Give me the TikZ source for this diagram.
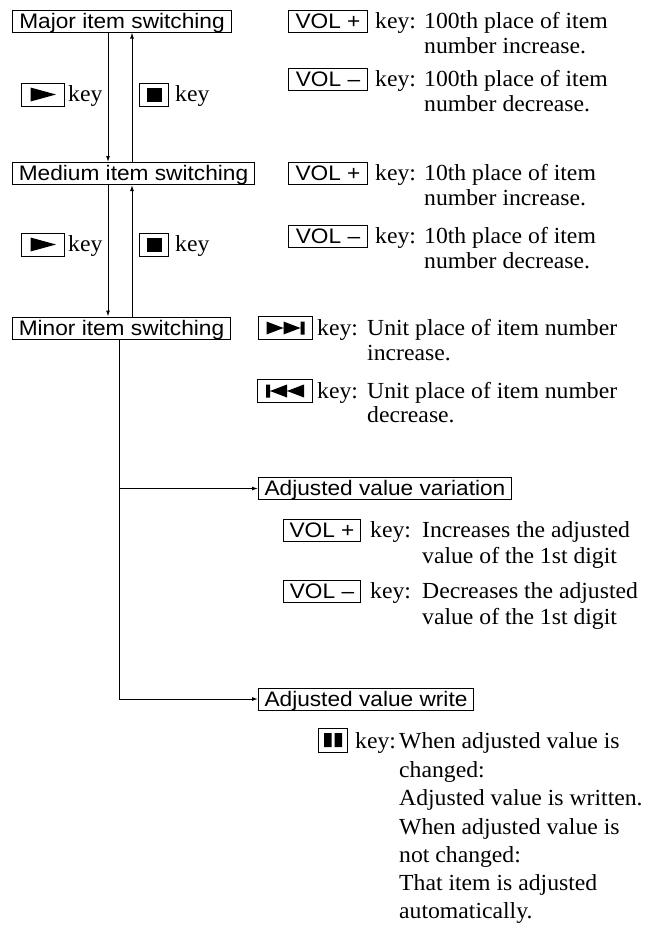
\documentclass[tikz,border=0pt]{standalone}
\usepackage{fontspec}
\setmainfont{Liberation Serif}[FakeStretch=1.03]
\newfontfamily\keyfont{Liberation Sans}[FakeStretch=1.08]
\usetikzlibrary{arrows.meta}

\begin{document}
\begin{tikzpicture}[x=1bp,y=-1bp,
  lbl/.style={font=\fontsize{23bp}{28bp}\selectfont, anchor=base west, inner sep=0pt},
  sbox/.style={draw, line width=1bp, font=\keyfont\fontsize{21bp}{25bp}\selectfont,
    anchor=west, inner sep=0pt, minimum height=22bp, text height=17.5bp, text depth=3bp},
  glyph/.style={draw, line width=1bp, anchor=west, minimum height=23bp, inner sep=0pt},
  tip/.style={-{Latex[length=6bp,width=4bp]}},
  wire/.style={line width=1bp},
]
\useasboundingbox (0,0) rectangle (651,926);

% mode boxes
\node[sbox, minimum width=219bp] (major)  at (12,21)    {Major item switching};
\node[sbox, minimum width=242bp] (medium) at (12,173.5) {Medium item switching};
\node[sbox, minimum width=218bp] (minor)  at (12,328)   {Minor item switching};
\node[sbox, minimum width=253bp] (vary)   at (258,488.5) {Adjusted value variation};
\node[sbox, minimum width=215bp] (write)  at (258,699)  {Adjusted value write};

% volume keys
\node[sbox, minimum width=79bp] (volup1) at (288,21.5)  {VOL +};
\node[sbox, minimum width=79bp] (voldn1) at (288,79)    {VOL –};
\node[sbox, minimum width=79bp] (volup2) at (288,173.5) {VOL +};
\node[sbox, minimum width=79bp] (voldn2) at (288,236.5) {VOL –};
\node[sbox, minimum width=77bp] (volup3) at (283,530)   {VOL +};
\node[sbox, minimum width=77bp] (voldn3) at (283,591.5) {VOL –};

% transport keys with drawn symbols
\node[glyph, minimum width=43bp] (play1) at (21,94.5) {};
\node[glyph, minimum width=29bp] (stop1) at (139,94.5) {};
\node[glyph, minimum width=43bp] (play2) at (21,244.5) {};
\node[glyph, minimum width=29bp] (stop2) at (139,244.5) {};
\node[glyph, minimum width=54bp] (next)  at (258,328) {};
\node[glyph, minimum width=55bp] (prev)  at (257,391) {};
\node[glyph, minimum width=29bp, minimum height=24bp] (pause) at (318,740) {};

\foreach \k in {play1,play2}
  \fill[shift={(\k.center)}] (-12.5,-7) -- (13,0) -- (-12.5,7) -- cycle;
\foreach \k in {stop1,stop2}
  \fill[shift={(\k.center)}] (-7.5,-7) rectangle (7.5,7);
\fill[shift={(next.center)}] (-19,-6.5) -- (-2,0) -- (-19,6.5) -- cycle
  (-2,-6.5) -- (15,0) -- (-2,6.5) -- cycle
  (15,-6.5) rectangle (19,6.5);
\fill[shift={(prev.center)}] (-19,-6.5) rectangle (-15,6.5)
  (2,-6.5) -- (-15,0) -- (2,6.5) -- cycle
  (19,-6.5) -- (2,0) -- (19,6.5) -- cycle;
\fill[shift={(pause.center)}] (-9,-7) rectangle (-1.5,7) (1.5,-7) rectangle (9,7);

% connectors
\coordinate (dn) at (108,0);
\coordinate (up) at (132,0);
\coordinate (trunk) at (119,0);
\draw[wire,tip] (major.south -| dn) -- (medium.north -| dn);
\draw[wire,tip] (medium.north -| up) -- (major.south -| up);
\draw[wire,tip] (medium.south -| dn) -- (minor.north -| dn);
\draw[wire,tip] (minor.north -| up) -- (medium.south -| up);
\draw[wire,tip] (minor.south -| trunk) |- (write.west);
\draw[wire,tip] (trunk |- vary.west) -- (vary.west);

% key captions beside the arrows
\node[lbl] (kp1) at (68,101.5)  {key};
\node[lbl] (ks1) at (175,101.5) {key};
\node[lbl] (kp2) at (68,251.5)  {key};
\node[lbl] (ks2) at (175,251.5) {key};

% major item keys
\node[lbl] (k1)  at (375,28)  {key:};
\node[lbl] (d1a) at (424,28)  {100th place of item};
\node[lbl] (d1b) at (424,53)  {number increase.};
\node[lbl] (k2)  at (375,86)  {key:};
\node[lbl] (d2a) at (424,86)  {100th place of item};
\node[lbl] (d2b) at (424,111) {number decrease.};

% medium item keys
\node[lbl] (k3)  at (375,180) {key:};
\node[lbl] (d3a) at (424,180) {10th place of item};
\node[lbl] (d3b) at (424,205) {number increase.};
\node[lbl] (k4)  at (375,243) {key:};
\node[lbl] (d4a) at (424,243) {10th place of item};
\node[lbl] (d4b) at (424,268) {number decrease.};

% minor item keys
\node[lbl] (k5)  at (317,335) {key:};
\node[lbl] (d5a) at (367,335) {Unit place of item number};
\node[lbl] (d5b) at (367,360) {increase.};
\node[lbl] (k6)  at (317,398) {key:};
\node[lbl] (d6a) at (367,398) {Unit place of item number};
\node[lbl] (d6b) at (367,422) {decrease.};

% adjusted value variation keys
\node[lbl] (k7)  at (370,537) {key:};
\node[lbl] (d7a) at (422,537) {Increases the adjusted};
\node[lbl] (d7b) at (422,563) {value of the 1st digit};
\node[lbl] (k8)  at (370,598) {key:};
\node[lbl] (d8a) at (422,598) {Decreases the adjusted};
\node[lbl] (d8b) at (422,624) {value of the 1st digit};

% adjusted value write key
\node[lbl] (k9)  at (355,748) {key:};
\node[lbl] (w1)  at (399,748) {When adjusted value is};
\node[lbl] (w2)  at (399,777) {changed:};
\node[lbl] (w3)  at (399,805) {Adjusted value is written.};
\node[lbl] (w4)  at (399,834) {When adjusted value is};
\node[lbl] (w5)  at (399,862) {not changed:};
\node[lbl] (w6)  at (399,890) {That item is adjusted};
\node[lbl] (w7)  at (399,918) {automatically.};
\end{tikzpicture}
\end{document}
